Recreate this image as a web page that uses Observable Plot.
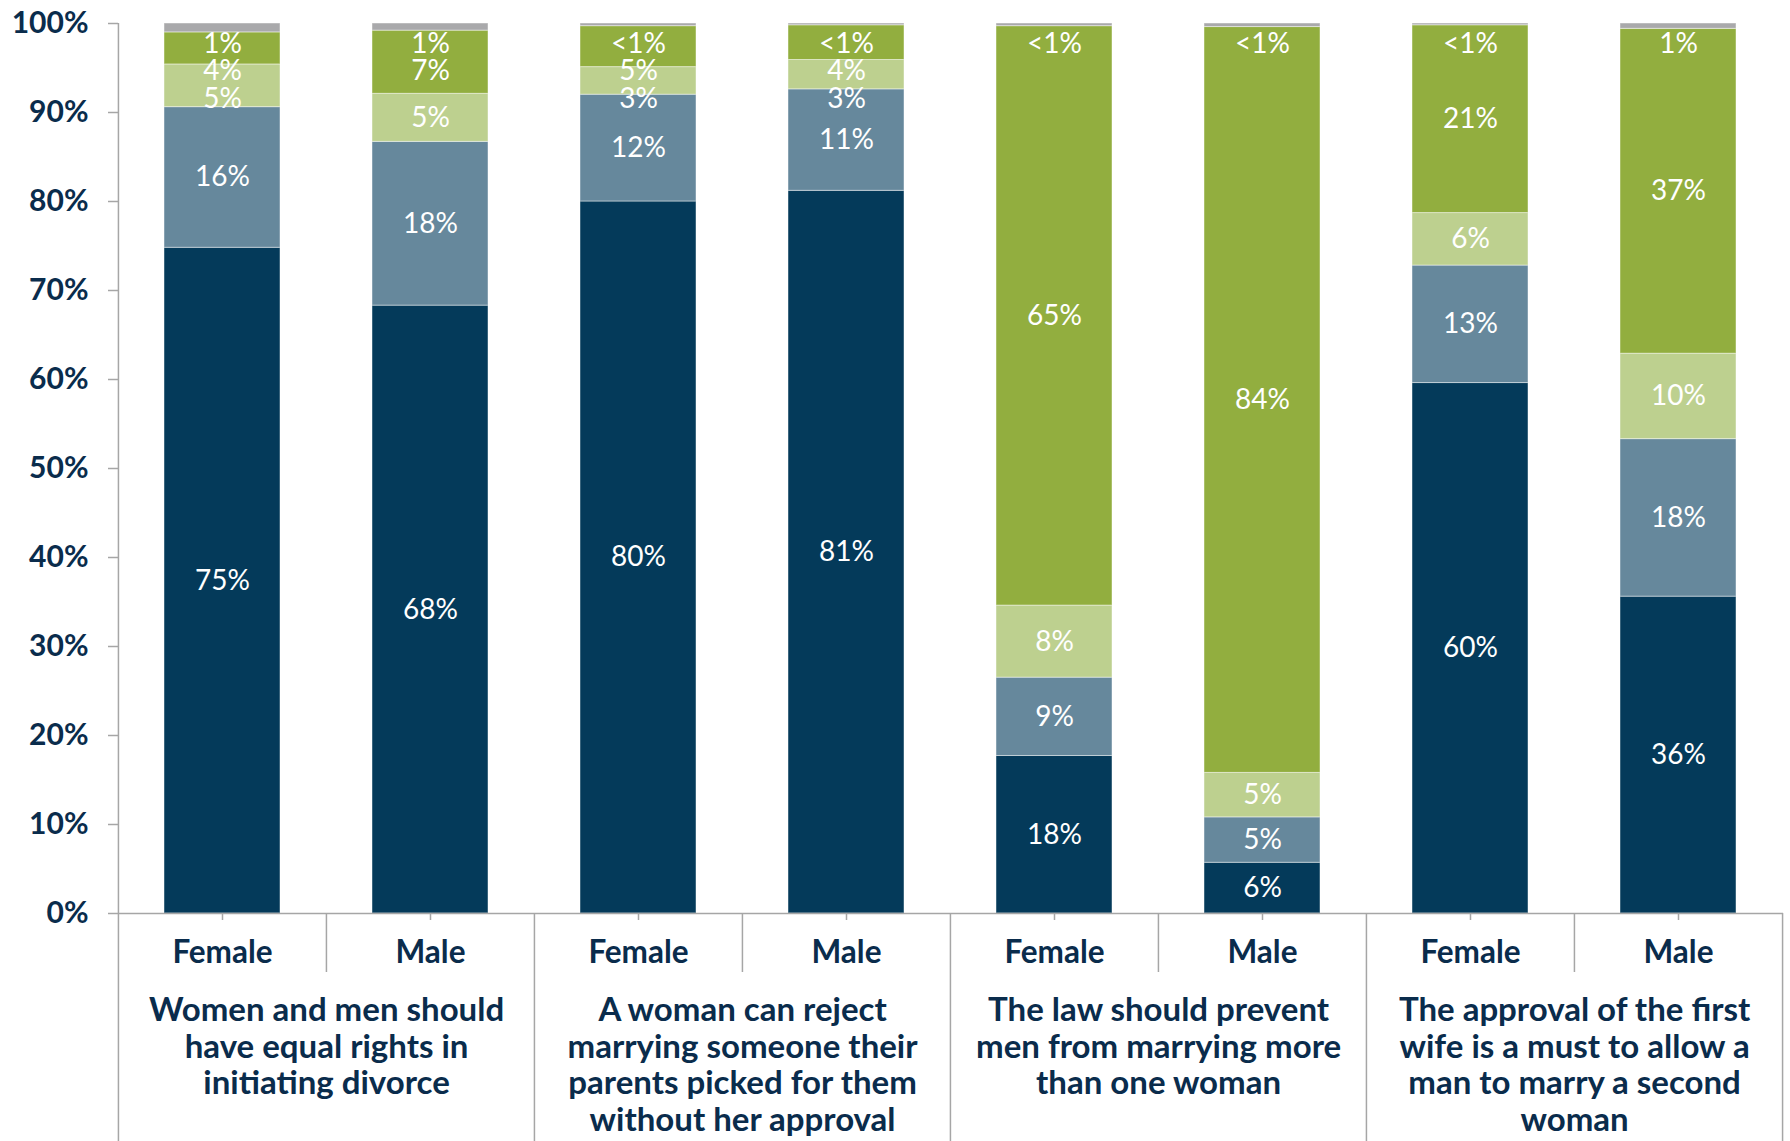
<!DOCTYPE html>
<html>
<head>
<meta charset="utf-8">
<script src="https://cdn.jsdelivr.net/npm/d3@7"></script>
<script src="https://cdn.jsdelivr.net/npm/@observablehq/plot@0.6"></script>
<style>
  html, body { margin: 0; padding: 0; background: #fff; }
  svg { display: block; }
</style>
</head>
<body>
<div id="chart"></div>
<script>
// ---- data ----
const questions = [
  "Women and men should\nhave equal rights in\ninitiating divorce",
  "A woman can reject\nmarrying someone their\nparents picked for them\nwithout her approval",
  "The law should prevent\nmen from marrying more\nthan one woman",
  "The approval of the first\nwife is a must to allow a\nman to marry a second\nwoman"
];
const genders = ["Female", "Male"];
const categories = ["Strongly agree", "Agree", "Disagree", "Strongly disagree", "Don't know"];
// one value per bar: Q1 F, Q1 M, Q2 F, Q2 M, Q3 F, Q3 M, Q4 F, Q4 M
const stronglyAgree    = [74.8, 68.3, 80.0, 81.2, 17.7,  5.7, 59.6, 35.6];
const agree            = [15.8, 18.4, 12.0, 11.4,  8.8,  5.1, 13.2, 17.7];
const disagree         = [ 4.8,  5.4,  3.1,  3.3,  8.1,  5.0,  5.9,  9.6];
const stronglyDisagree = [ 3.6,  7.1,  4.6,  3.9, 65.1, 83.8, 21.1, 36.5];
const dontKnow         = [ 1.0,  0.8,  0.3,  0.2,  0.3,  0.4,  0.2,  0.6];
const yTicks = [0, 10, 20, 30, 40, 50, 60, 70, 80, 90, 100];

const series = [stronglyAgree, agree, disagree, stronglyDisagree, dontKnow];
const colors = ["#043a5a", "#66889c", "#bdd08f", "#92ae3f", "#a9a9ab"];
const navy = "#0a2c4c";
const gray = "#a6a6a6";

// ---- layout ----
const W = 1790, H = 1141, mL = 118, mR = 7, mT = 23, mB = 228;
const keys = questions.flatMap((q, i) => genders.map(g => `${i}|${g}`));
const perPct = (H - mT - mB) / 100;
const px = p => p / perPct;
const step = (W - mL - mR) / keys.length;

const rows = [];
categories.forEach((c, ci) => keys.forEach((k, b) => rows.push({key: k, cat: c, value: series[ci][b]})));

const fmt = v => v < 0.5 ? "<1%" : Math.round(v) + "%";
const labels = [];
keys.forEach((k, b) => {
  let base = 0;
  const segs = series.map(s => { const v = s[b]; const seg = {y1: base, y2: base + v, v}; base += v; return seg; });
  const gap = px(27.5);
  let prev = 100 - px(20.5) + gap;
  for (let ci = segs.length - 1; ci >= 0; ci--) {
    const s = segs[ci];
    const y = Math.min((s.y1 + s.y2) / 2, prev - gap);
    prev = y;
    labels.push({key: k, y, text: fmt(s.v)});
  }
});

const bottom = -px(mB);
const groupStarts = questions.map((q, i) => `${i}|Female`);
const innerSeps = questions.map((q, i) => `${i}|Male`);

const chart = Plot.plot({
  width: W, height: H,
  marginLeft: mL, marginRight: mR, marginTop: mT, marginBottom: mB,
  style: {fontFamily: "Lato, 'Open Sans', sans-serif", background: "#fff", overflow: "visible"},
  x: {type: "band", domain: keys, paddingInner: 0.44, paddingOuter: 0.22, axis: null},
  y: {domain: [0, 100], axis: null},
  color: {domain: categories, range: colors},
  marks: [
    Plot.barY(rows, {x: "key", y: "value", fill: "cat", stroke: "#ffffff", strokeOpacity: 0.45, strokeWidth: 1}),
    Plot.text(labels, {x: "key", y: "y", text: "text", fill: "white", fontSize: 28}),
    Plot.ruleY([0], {stroke: gray, strokeWidth: 1.5}),
    Plot.axisY({ticks: yTicks, tickFormat: d => d + "%", tickSize: 10, tickPadding: 20,
      stroke: gray, strokeWidth: 1.5, fill: navy, fontSize: 30, fontWeight: "bold", label: null}),
    Plot.axisX({tickFormat: d => d.split("|")[1], tickSize: 7, tickPadding: 20,
      stroke: gray, strokeWidth: 1.5, fill: navy, fontSize: 31.5, fontWeight: "bold", label: null}),
    // y axis line continuing down as left border
    Plot.ruleX([keys[0]], {x: d => d, y1: 100, y2: bottom, dx: -step / 2, stroke: gray, strokeWidth: 1.5}),
    // group separators
    Plot.ruleX(groupStarts.slice(1), {x: d => d, y1: 0, y2: bottom, dx: -step / 2, stroke: gray, strokeWidth: 1.5}),
    Plot.ruleX([keys[keys.length - 1]], {x: d => d, y1: 0, y2: bottom, dx: step / 2, stroke: gray, strokeWidth: 1.5}),
    // separators between Female and Male
    Plot.ruleX(innerSeps, {x: d => d, y1: 0, y2: -px(59), dx: -step / 2, stroke: gray, strokeWidth: 1.5}),
    // question labels
    Plot.text(questions, {x: (d, i) => groupStarts[i], y: 0, dx: step / 2, dy: 81, text: d => d,
      lineAnchor: "top", lineHeight: 36.9 / 33, fontSize: 33, fontWeight: "bold", fill: navy})
  ]
});
document.getElementById("chart").appendChild(chart);
</script>
</body>
</html>
